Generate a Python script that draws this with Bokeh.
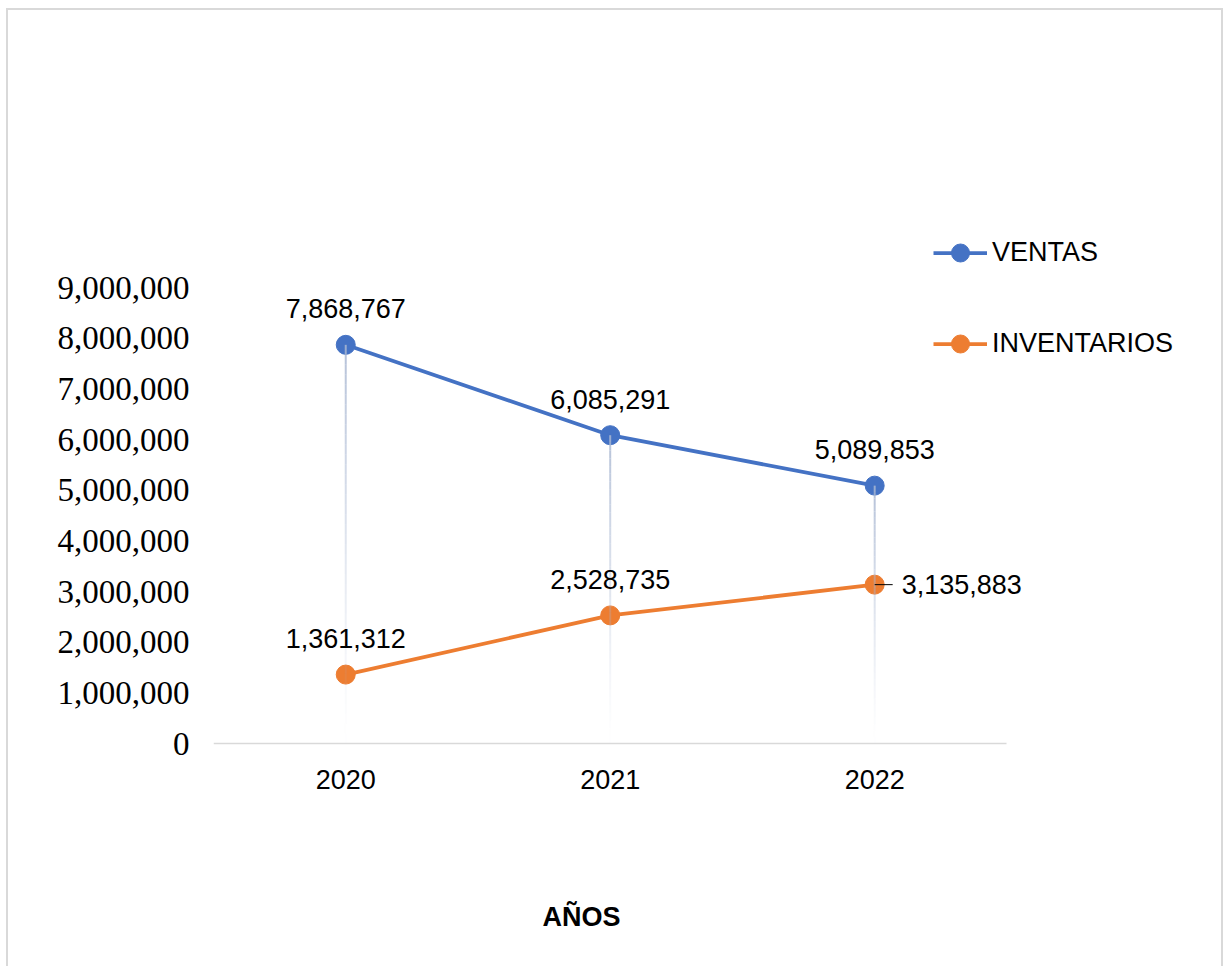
import numpy as np
from bokeh.plotting import figure
from bokeh.models import (ColumnDataSource, Range1d, NumeralTickFormatter,
                          Legend, LegendItem, Label, FixedTicker)
from bokeh.core.properties import value
from bokeh.embed import file_html
from bokeh.resources import INLINE

# ---- data ----
years = [2020, 2021, 2022]
year_labels = ["2020", "2021", "2022"]
ventas = [7868767, 6085291, 5089853]
inventarios = [1361312, 2528735, 3135883]
ventas_labels = ["7,868,767", "6,085,291", "5,089,853"]
inventarios_labels = ["1,361,312", "2,528,735", "3,135,883"]
y_ticks = [0, 1000000, 2000000, 3000000, 4000000, 5000000, 6000000, 7000000, 8000000, 9000000]

BLUE = "#4472C4"
ORANGE = "#ED7D31"
FONT = "Liberation Sans"

p = figure(width=1217, height=958, output_backend="svg", toolbar_location=None,
           x_range=Range1d(2019.5, 2023.3), y_range=Range1d(-4400000, 10500000),
           min_border_left=205, min_border_right=7, min_border_top=201, min_border_bottom=2)
p.margin = (8, 0, 0, 6)
p.styles = {"border-top": "2px solid #d9d9d9", "border-left": "2px solid #d9d9d9",
            "border-right": "2px solid #d9d9d9"}
p.outline_line_color = None
p.xgrid.grid_line_color = None
p.ygrid.grid_line_color = None
p.background_fill_color = "white"
p.border_fill_color = "white"

# axes
p.xaxis.fixed_location = 0
p.xaxis.bounds = (2019.5, 2022.5)
p.xaxis.ticker = FixedTicker(ticks=years)
p.xaxis.major_label_overrides = {y: s for y, s in zip(years, year_labels)}
p.xaxis.axis_line_color = "#d9d9d9"
p.xaxis.axis_line_width = 1.5
p.xaxis.major_tick_line_color = None
p.xaxis.minor_tick_line_color = None
p.xaxis.major_label_text_font = FONT
p.xaxis.major_label_text_font_size = "27px"
p.xaxis.major_label_text_color = "black"
p.xaxis.major_label_standoff = 20

p.yaxis.axis_line_color = None
p.yaxis.major_tick_line_color = None
p.yaxis.minor_tick_line_color = None
p.yaxis.ticker = FixedTicker(ticks=y_ticks)
p.yaxis.formatter = NumeralTickFormatter(format="0,0")
p.yaxis.major_label_text_font = "Liberation Serif"
p.yaxis.major_label_text_font_size = "33px"
p.yaxis.major_label_text_color = "black"
p.yaxis.major_label_standoff = 18

# series
src_v = ColumnDataSource(dict(x=years, y=ventas, lab=ventas_labels))
src_i = ColumnDataSource(dict(x=years, y=inventarios, lab=inventarios_labels))

lv = p.line("x", "y", source=src_v, line_color=BLUE, line_width=3.75)
sv = p.scatter("x", "y", source=src_v, size=19, fill_color=BLUE, line_color=BLUE)
li = p.line("x", "y", source=src_i, line_color=ORANGE, line_width=3.75)
si = p.scatter("x", "y", source=src_i, size=19, fill_color=ORANGE, line_color=ORANGE)

# drop lines (gradient fading toward axis), drawn over the markers
nseg = 40
dx, dy0, dy1, da = [], [], [], []
for yr, a, b in zip(years, ventas, inventarios):
    top = max(a, b)
    edges = np.linspace(top, 0, nseg + 1)
    for k in range(nseg):
        dx.append(yr)
        dy0.append(edges[k])
        dy1.append(edges[k + 1])
        da.append(0.85 * (1 - k / nseg) ** 1.3)
p.segment(x0="x", y0="y0", x1="x", y1="y1",
          source=ColumnDataSource(dict(x=dx, y0=dy0, y1=dy1, a=da)),
          line_color="#a9b7d2", line_alpha="a", line_width=2)

# data labels
lab_kw = dict(text_font=value(FONT), text_font_size="27px", text_color="black",
              text_baseline="middle")
p.text("x", "y", text="lab", source=src_v, text_align="center", y_offset=-36, **lab_kw)
src_i_above = ColumnDataSource(dict(x=years[:2], y=inventarios[:2], lab=inventarios_labels[:2]))
p.text("x", "y", text="lab", source=src_i_above, text_align="center", y_offset=-36, **lab_kw)
src_i_right = ColumnDataSource(dict(x=years[2:], y=inventarios[2:], lab=inventarios_labels[2:]))
p.ray("x", "y", source=src_i_right, length=18, length_units="screen", angle=0,
      line_color="black", line_width=1)
p.text("x", "y", text="lab", source=src_i_right, text_align="left", x_offset=27, **lab_kw)

# legend
legend = Legend(items=[LegendItem(label="VENTAS", renderers=[lv, sv]),
                       LegendItem(label="INVENTARIOS", renderers=[li, si])],
                location=(720, 600), orientation="vertical",
                glyph_width=54, glyph_height=45, label_height=45, spacing=46,
                label_standoff=5, padding=0, margin=0,
                border_line_color=None, background_fill_alpha=0,
                label_text_font=FONT, label_text_font_size="27px",
                label_text_color="black")
p.add_layout(legend)

# axis title (screen units, relative to the plot frame)
p.add_layout(Label(x=368, y=50, x_units="screen", y_units="screen", text="AÑOS",
                   text_align="center", text_baseline="middle",
                   text_font=FONT, text_font_style="bold", text_font_size="27px",
                   text_color="black"))

open("out.html", "w").write(file_html(p, INLINE))
